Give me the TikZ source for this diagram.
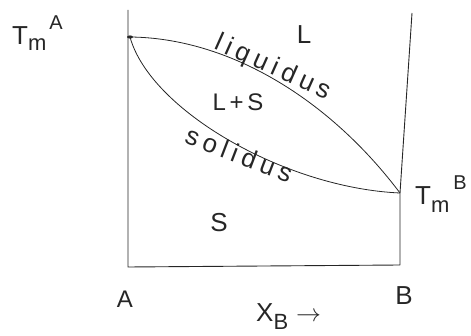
\documentclass[tikz,border=0pt]{standalone}
\usepackage{fontspec}
\setmainfont{Liberation Sans}
\begin{document}
\begin{tikzpicture}[x=1pt,y=-1pt,
  axis/.style={line width=0.9pt, draw=black!85, line join=round},
  curve/.style={line width=0.8pt, draw=black!85},
  lbl/.style={font=\fontsize{26}{28}\selectfont, text=black!85, inner sep=0pt},
  curvelbl/.style={font=\fontsize{26}{28}\selectfont\addfontfeature{LetterSpace=20}, text=black!85, inner sep=0pt, anchor=base}]
\useasboundingbox (0,0) rectangle (471,336);
% frame
\coordinate (tl) at (128,10);
\coordinate (bl) at (128,267);
\coordinate (br) at (400,265);
\coordinate (tr) at (412,13);
\coordinate (tmA) at (130,37);
\coordinate (tmB) at (400,193);
\draw[axis] (tl) -- (bl) -- (br) -- (tmB) -- (tr);
% liquidus and solidus
\draw[curve] (tmA) .. controls (230,38) and (330,100) .. (tmB);
\draw[curve] (tmA) .. controls (150,110) and (285,188) .. (tmB);
\fill[black!85] (tmA) ellipse (3 and 1.6);
% labels
\node[lbl, anchor=base west] (lTmA) at (12,45) {T\raisebox{-6pt}{\fontsize{22}{24}\selectfont m}\hspace{3pt}\raisebox{15pt}{\fontsize{20}{22}\selectfont A}};
\node[lbl, anchor=base west] (lTmB) at (415,205) {T\raisebox{-8pt}{\fontsize{22}{24}\selectfont m}\hspace{4pt}\raisebox{15pt}{\fontsize{20}{22}\selectfont B}};
\node[lbl, anchor=base] (lL) at (304,44) {L};
\node[lbl, anchor=base, font=\fontsize{24}{26}\selectfont\addfontfeature{LetterSpace=15}] (lLS) at (238,111) {L+S};
\node[lbl, anchor=base] (lS) at (219,232) {S};
\node[curvelbl, rotate=-24] (liq) at (270,74) {liquidus};
\node[curvelbl, rotate=-21] (sol) at (236,163) {solidus};
\node[lbl, anchor=base, font=\fontsize{24}{26}\selectfont] (lA) at (125,308) {A};
\node[lbl, anchor=base] (lB) at (404,305) {B};
\node[lbl, anchor=base west] (lX) at (256,322) {X\raisebox{-8pt}{\fontsize{22}{24}\selectfont B}\hspace{8pt}$\rightarrow$};
\end{tikzpicture}
\end{document}
